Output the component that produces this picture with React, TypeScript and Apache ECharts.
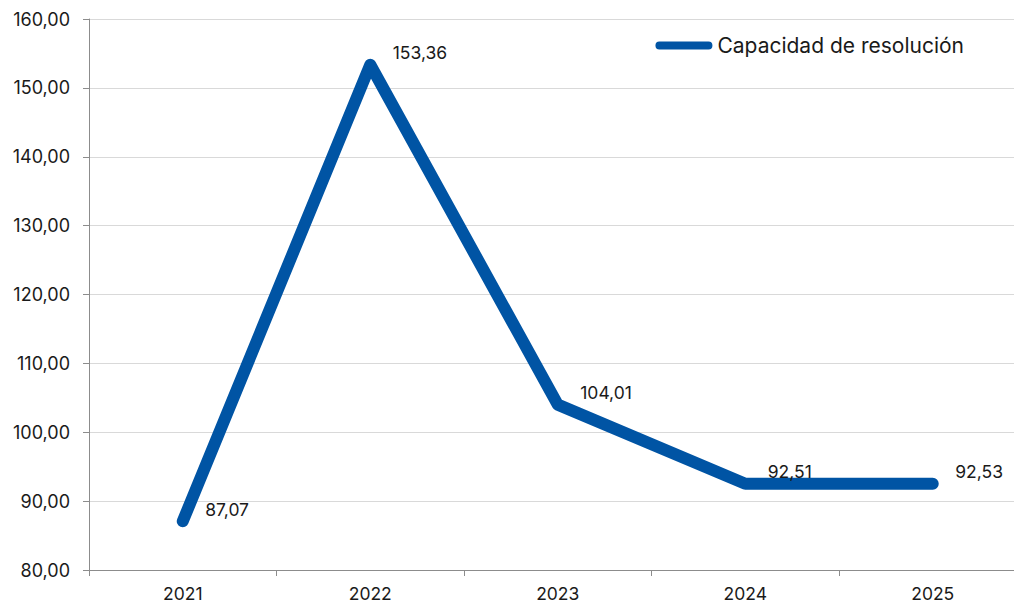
import React, { useEffect, useRef } from "react";
import * as echarts from "echarts";

const categories = ["2021", "2022", "2023", "2024", "2025"];
const values = [87.07, 153.36, 104.01, 92.51, 92.53];
const seriesName = "Capacidad de resolución";
const yMin = 80;
const yMax = 160;
const yInterval = 10;

const FONT = "Inter, 'Noto Sans', sans-serif";
const BLUE = "#0054A4";

const fmt = (v: number) => v.toFixed(2).replace(".", ",");

export default function App() {
  const ref = useRef<HTMLDivElement>(null);
  useEffect(() => {
    document.body.style.margin = "0";
    const chart = echarts.init(ref.current!, null, { renderer: "svg" });
    chart.setOption({
      animation: false,
      backgroundColor: "#ffffff",
      textStyle: { fontFamily: FONT },
      grid: {
        left: 89,
        width: 937.5,
        top: 19,
        height: 551,
        containLabel: false,
        outerBoundsMode: "none",
      },
      legend: {
        data: [seriesName],
        right: 45,
        top: 30,
        icon: "path://M4,0 H54 A4,4 0 0 1 54,8 H4 A4,4 0 0 1 4,0 Z",
        itemWidth: 57,
        itemHeight: 9,
        textStyle: { fontFamily: FONT, fontSize: 21, color: "#1a1a1a" },
      },
      xAxis: {
        type: "category",
        data: categories,
        boundaryGap: true,
        axisLine: { lineStyle: { color: "#8c8c8c", width: 1 } },
        axisTick: { show: true, length: 6, lineStyle: { color: "#8c8c8c" } },
        axisLabel: {
          fontFamily: FONT,
          fontSize: 17.5,
          lineHeight: 17,
          color: "#1a1a1a",
          margin: 15,
        },
        splitLine: { show: false },
      },
      yAxis: {
        type: "value",
        min: yMin,
        max: yMax,
        interval: yInterval,
        axisLine: { show: true, lineStyle: { color: "#8c8c8c", width: 1 } },
        axisTick: { show: true, length: 6, lineStyle: { color: "#8c8c8c" } },
        axisLabel: {
          fontFamily: FONT,
          fontSize: 18,
          color: "#1a1a1a",
          margin: 19,
          formatter: (v: number) => fmt(v),
        },
        splitLine: { show: true, lineStyle: { color: "#d9d9d9", width: 1 } },
      },
      series: [
        {
          name: seriesName,
          type: "line",
          data: values,
          symbol: "circle",
          symbolSize: 1,
          showSymbol: true,
          lineStyle: { color: BLUE, width: 12, cap: "round", join: "round" },
          itemStyle: { color: BLUE },
          label: {
            show: true,
            position: "right",
            distance: 22,
            offset: [0, -12],
            fontFamily: FONT,
            fontSize: 17.5,
            color: "#1a1a1a",
            formatter: (p: any) => fmt(p.value),
          },
        },
      ],
    });
    return () => chart.dispose();
  }, []);
  return <div ref={ref} style={{ width: 1014, height: 603 }} />;
}
